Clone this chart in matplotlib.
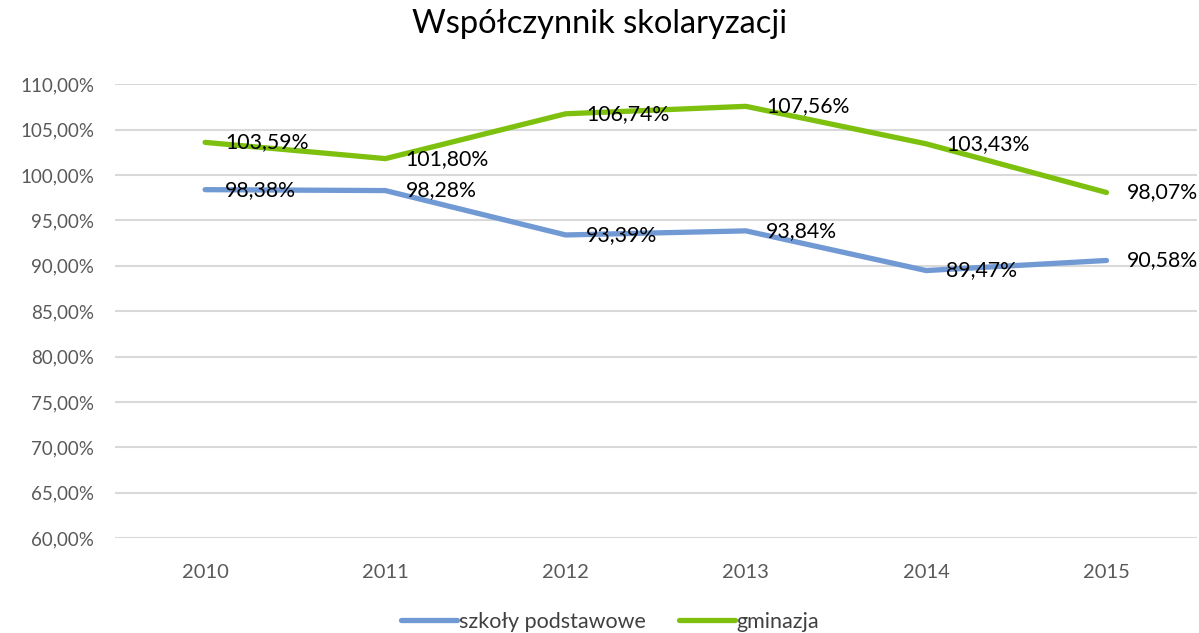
import matplotlib.pyplot as plt
import matplotlib.ticker as mticker

years = ['2010', '2011', '2012', '2013', '2014', '2015']
podstawowe = [98.38, 98.28, 93.39, 93.84, 89.47, 90.58]
gimnazja = [103.59, 101.80, 106.74, 107.56, 103.43, 98.07]

plt.rcParams['font.family'] = ['Lato', 'DejaVu Sans']

fig = plt.figure(figsize=(11.99, 6.33), dpi=100)
ax = fig.add_axes([0.0959, 0.150, 0.9021, 0.717])

x = list(range(len(years)))
blue = '#7199D4'
green = '#7DC00E'
ax.plot(x, podstawowe, color=blue, linewidth=3.8, solid_capstyle='round', label='szkoły podstawowe', zorder=3)
ax.plot(x, gimnazja, color=green, linewidth=3.8, solid_capstyle='round', label='gminazja', zorder=3)

def fmt(v):
    return f'{v:.2f}'.replace('.', ',') + '%'

for xi, v in zip(x, podstawowe):
    ax.annotate(fmt(v), (xi, v), xytext=(14.5, 0), textcoords='offset points',
                ha='left', va='center', fontsize=15.3, color='black', zorder=4)
for xi, v in zip(x, gimnazja):
    ax.annotate(fmt(v), (xi, v), xytext=(14.5, 0), textcoords='offset points',
                ha='left', va='center', fontsize=15.3, color='black', zorder=4)

ax.set_xlim(-0.5, len(years) - 0.5)
ax.set_ylim(60, 110)
ax.set_xticks(x)
ax.set_xticklabels(years)
ax.yaxis.set_major_locator(mticker.MultipleLocator(5))
ax.yaxis.set_major_formatter(mticker.FuncFormatter(lambda v, p: f'{v:.2f}'.replace('.', ',') + '%'))
ax.tick_params(length=0, labelcolor='#595959')
ax.tick_params(axis='y', labelsize=13.5, pad=15)
ax.tick_params(axis='x', labelsize=14.5, pad=19)
ax.grid(axis='y', color='#D9D9D9', linewidth=1.5)
ax.set_axisbelow(True)
for s in ax.spines.values():
    s.set_visible(False)

fig.suptitle('Współczynnik skolaryzacji', fontsize=23.5, y=0.985)
ax.legend(loc='center', bbox_to_anchor=(0.458, -0.185), ncol=2, frameon=False,
          fontsize=15.5, labelcolor='#404040', handlelength=2.6, handletextpad=0.1,
          columnspacing=1.5)

fig.savefig('out.png', dpi=100)
